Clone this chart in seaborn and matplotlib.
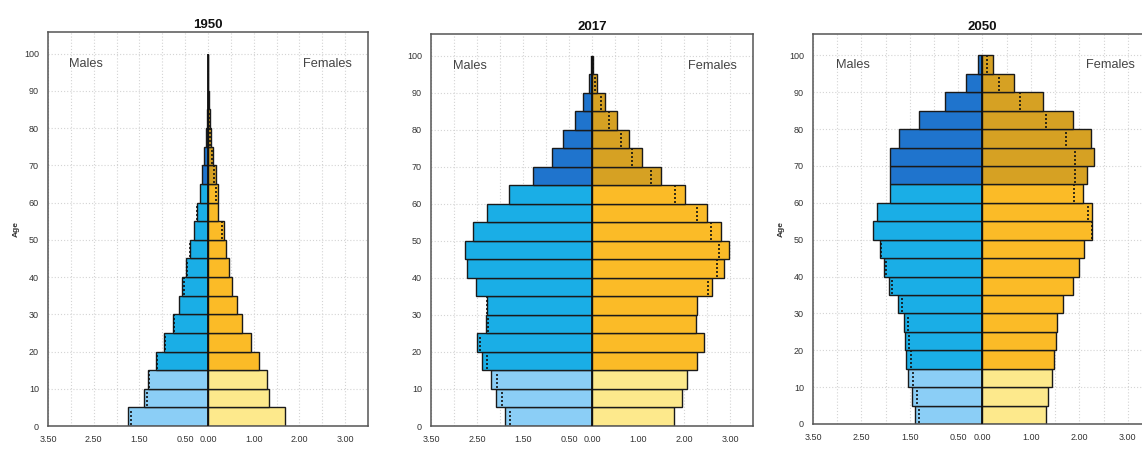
import numpy as np
import pandas as pd
import matplotlib
matplotlib.use("Agg")
import matplotlib.pyplot as plt
import seaborn as sns

# Age groups (lower bound of each 5-year band, 0-4 ... 95-99)
age_start = list(range(0, 100, 5))

# Population (millions) by age group, bottom to top
males_1950 = [1.74, 1.41, 1.32, 1.13, 0.97, 0.77, 0.64, 0.56, 0.49, 0.40,
              0.31, 0.24, 0.18, 0.13, 0.08, 0.05, 0.02, 0.01, 0.003, 0.0]
females_1950 = [1.68, 1.34, 1.29, 1.12, 0.95, 0.75, 0.64, 0.53, 0.46, 0.39,
                0.34, 0.23, 0.21, 0.17, 0.11, 0.07, 0.04, 0.015, 0.005, 0.0]

males_2017 = [1.90, 2.09, 2.19, 2.40, 2.49, 2.30, 2.29, 2.53, 2.71, 2.76,
              2.58, 2.29, 1.80, 1.28, 0.88, 0.63, 0.38, 0.19, 0.07, 0.02]
females_2017 = [1.79, 1.96, 2.07, 2.28, 2.44, 2.27, 2.28, 2.60, 2.87, 2.97,
                2.81, 2.50, 2.03, 1.50, 1.09, 0.80, 0.55, 0.29, 0.10, 0.03]

males_2050 = [1.39, 1.45, 1.53, 1.57, 1.61, 1.63, 1.74, 1.93, 2.04, 2.12,
              2.26, 2.18, 1.90, 1.91, 1.91, 1.73, 1.32, 0.78, 0.34, 0.09]
females_2050 = [1.31, 1.36, 1.43, 1.48, 1.51, 1.54, 1.66, 1.86, 1.99, 2.09,
                2.27, 2.27, 2.07, 2.15, 2.30, 2.24, 1.87, 1.25, 0.65, 0.22]

years = ["1950", "2017", "2050"]
male_series = [males_1950, males_2017, males_2050]
female_series = [females_1950, females_2017, females_2050]

xtick_values = [-3.5, -3.0, -2.5, -2.0, -1.5, -1.0, -0.5, 0.0,
                0.5, 1.0, 1.5, 2.0, 2.5, 3.0, 3.5]
xtick_labels = ["3.50", "", "2.50", "", "1.50", "", "0.50", "0.00",
                "", "1.00", "", "2.00", "", "3.00", ""]
ytick_values = list(range(0, 101, 10))

palette = {
    "m_young": "#8BCEF6", "m_work": "#1AAEE6", "m_old": "#1F74CD",
    "f_young": "#FDE98C", "f_work": "#FBBB27", "f_old": "#D6A123",
}


def band(age):
    if age < 15:
        return "young"
    if age < 65:
        return "work"
    return "old"


def build_frame(males, females):
    rows = []
    for a, m, f in zip(age_start, males, females):
        mid = a + 2.5
        rows.append({"mid": mid, "value": -m, "group": "m_" + band(a)})
        rows.append({"mid": mid, "value": f, "group": "f_" + band(a)})
    return pd.DataFrame(rows)


sns.set_theme(style="white")
plt.rcParams["font.family"] = ["Liberation Sans", "DejaVu Sans"]

fig = plt.figure(figsize=(11.42, 4.49), dpi=100)

positions = [
    [0.0420, 0.0512, 0.2802, 0.8775],
    [0.3774, 0.0512, 0.2820, 0.8730],
    [0.7119, 0.0557, 0.2968, 0.8686],
]
show_age_label = [True, False, True]

for pos, year, males, females, age_lbl in zip(positions, years, male_series,
                                                female_series, show_age_label):
    ax = fig.add_axes(pos)
    df = build_frame(males, females)
    sns.barplot(data=df, x="value", y="mid", hue="group", palette=palette,
                orient="y", native_scale=True, width=1.0, dodge=False,
                saturation=1.0, errorbar=None, legend=False,
                edgecolor="#1a1a1a", linewidth=1.0, ax=ax, zorder=2)

    # dotted marker: the smaller sex's size drawn inside the larger bar
    for a, m, f in zip(age_start, males, females):
        if abs(m - f) < 1e-9 or max(m, f) < 0.03:
            continue
        x = -f if m > f else m
        ax.vlines(x, a + 0.3, a + 4.7, colors="#111111",
                  linestyles=(0, (1.2, 1.2)), linewidth=1.2, zorder=3)

    ax.vlines(0, 0, 100, colors="#111111", linewidth=1.3, zorder=4)

    ax.set_xlim(-3.5, 3.5)
    ax.set_ylim(0, 105.8)
    ax.set_xticks(xtick_values)
    ax.set_xticklabels(xtick_labels)
    ax.set_yticks(ytick_values)
    ax.set_yticklabels([str(v) for v in ytick_values])
    ax.tick_params(axis="both", direction="out", length=3.5, width=0.9,
                   color="#555555", labelsize=6.5, labelcolor="#333333", pad=3)
    ax.grid(True, color="#d4d4d4", linestyle=(0, (1, 1.8)), linewidth=0.8,
            zorder=0)
    ax.set_axisbelow(True)
    for s in ax.spines.values():
        s.set_color("#555555")
        s.set_linewidth(1.1)

    ax.set_xlabel("")
    if age_lbl:
        ax.set_ylabel("Age", fontsize=6, fontweight="bold", color="#333333",
                      labelpad=3)
    else:
        ax.set_ylabel("")
    ax.set_title(year, fontsize=9.5, fontweight="bold", color="#111111", pad=3)

    ax.text(-3.03, 97.3, "Males", fontsize=9.2, color="#444444",
            ha="left", va="center")
    ax.text(3.15, 97.3, "Females", fontsize=9.2, color="#444444",
            ha="right", va="center")

fig.savefig("out.png", dpi=100)
